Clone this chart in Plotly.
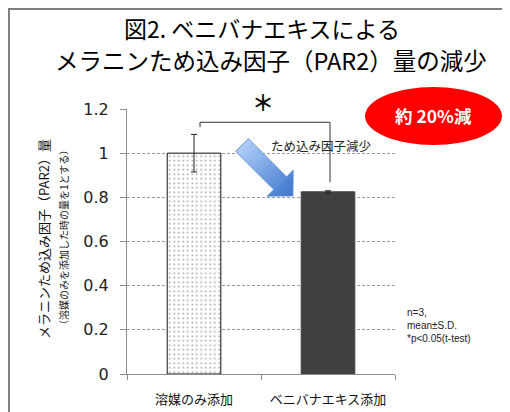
import math
import plotly.graph_objects as go

# ---- data ----
categories = ["溶媒のみ添加", "ベニバナエキス添加"]
means = [1.0, 0.825]
sds = [0.085, 0.005]
y_ticks = [0, 0.2, 0.4, 0.6, 0.8, 1.0, 1.2]
y_tick_labels = ["0", "0.2", "0.4", "0.6", "0.8", "1", "1.2"]

# page has an 8px body margin; all positions below are in screenshot pixels
OFF = 8
SW, SH = 510, 412
W, H = SW - OFF, SH - OFF
L, R, T, B = 127, 395, 109, 374  # plot area in screenshot pixels

def px2p(px, py):
    return (px - L) / (R - L), (B - py) / (B - T)

JP = "Noto Sans CJK JP"

fig = go.Figure()
fig.add_trace(go.Bar(
    x=[categories[0]], y=[means[0]],
    error_y=dict(type="data", array=[sds[0]], color="#222", thickness=1, width=3),
    marker=dict(color="white", line=dict(color="#111", width=1),
                pattern=dict(shape=".", fgcolor="#333", bgcolor="white", size=4.5, solidity=0.12)),
    width=0.4, showlegend=False))
fig.add_trace(go.Bar(
    x=[categories[1]], y=[means[1]],
    error_y=dict(type="data", array=[sds[1]], color="#222", thickness=1, width=3),
    marker=dict(color="#404040", line=dict(color="#404040", width=1)),
    width=0.4, showlegend=False))

shapes = []
# outer frame
fx0, fy1 = px2p(9, 9)
fx1, fy0 = px2p(530, 440)
shapes.append(dict(type="rect", xref="paper", yref="paper", x0=fx0, x1=fx1, y0=fy0, y1=fy1,
                   line=dict(color="#7f7f7f", width=2), fillcolor="rgba(0,0,0,0)", layer="below"))

# significance bracket
bx0, bx1 = 0.045, 1.015
by_top, by_l, by_r = 1.14, 1.118, 0.869
for (x0, y0, x1, y1) in [(bx0, by_l, bx0, by_top), (bx0, by_top, bx1, by_top), (bx1, by_top, bx1, by_r)]:
    shapes.append(dict(type="line", xref="x", yref="y", x0=x0, y0=y0, x1=x1, y1=y1,
                       line=dict(color="#333", width=1)))

# blue arrow (gradient approximated by slices)
TX, TY = 242, 145
s2 = math.sqrt(2)
def rot(a, q):
    return px2p(TX + (a + q) / s2, TY + (a - q) / s2)
def poly(pts):
    pp = [rot(a, q) for a, q in pts]
    return "M " + " L ".join(f"{x:.5f},{y:.5f}" for x, y in pp) + " Z"
c0 = (170, 202, 246)
c1 = (58, 116, 204)
def col(t):
    return "rgb(%d,%d,%d)" % tuple(int(c0[i] + (c1[i] - c0[i]) * t) for i in range(3))
a_head, a_tip, hw, sw = 54.0, 72.0, 18.4, 9.0
n = 10
for i in range(n):
    a0, a1 = a_head * i / n, a_head * (i + 1) / n + (0.6 if i < n - 1 else 0.3)
    shapes.append(dict(type="path", xref="paper", yref="paper",
                       path=poly([(a0, sw), (a1, sw), (a1, -sw), (a0, -sw)]),
                       fillcolor=col(a0 / a_tip), line=dict(width=0)))
m = 4
for i in range(m):
    a0 = a_head + (a_tip - a_head) * i / m
    a1 = a_head + (a_tip - a_head) * (i + 1) / m
    h0 = hw * (a_tip - a0) / (a_tip - a_head)
    a1e = min(a1 + 0.4, a_tip)
    h1e = hw * (a_tip - a1e) / (a_tip - a_head)
    shapes.append(dict(type="path", xref="paper", yref="paper",
                       path=poly([(a0, h0), (a1e, h1e), (a1e, -h1e), (a0, -h0)]),
                       fillcolor=col((a0 + a1) / 2 / a_tip), line=dict(width=0)))
shapes.append(dict(type="path", xref="paper", yref="paper",
                   path=poly([(0, sw), (a_head, sw), (a_head, hw), (a_tip, 0), (a_head, -hw), (a_head, -sw), (0, -sw)]),
                   fillcolor="rgba(0,0,0,0)", line=dict(color="#5a8ad6", width=0.8)))

# red ellipse
ex0, ey1 = px2p(365, 87)
ex1, ey0 = px2p(502, 145)
shapes.append(dict(type="circle", xref="paper", yref="paper", x0=ex0, x1=ex1, y0=ey0, y1=ey1,
                   fillcolor="#ff0000", line=dict(color="#ff0000", width=0)))

annotations = []
def ann(text, px, py, size, color="#000", xanchor="center", yanchor="middle", family=JP, **kw):
    x, y = px2p(px, py)
    annotations.append(dict(text=text, x=x, y=y, xref="paper", yref="paper", showarrow=False,
                            xanchor=xanchor, yanchor=yanchor,
                            font=dict(size=size, color=color, family=family), **kw))

ann("図2. ベニバナエキスによる", 262, 28, 23)
ann("メラニンため込み因子（PAR2）量の減少", 271, 60, 23.5)
ann("メラニンため込み因子（PAR2）量", 43, 239, 13, color="#111", textangle=-90)
ann("（溶媒のみを添加した時の量を1とする）", 63, 238, 10, color="#111", textangle=-90)
ann("<b>＊</b>", 263, 101, 22, color="#111")
ann("ため込み因子減少", 321, 145, 12.5, color="#222")
ann("<b>約 20%減</b>", 433, 115, 17.5, color="white")
for txt, yy in [("n=3,", 312), ("mean±S.D.", 325), ("*p<0.05(t-test)", 338)]:
    ann(txt, 405, yy, 10, color="#222", xanchor="left", family="Liberation Sans")

fig.update_layout(
    width=W, height=H, autosize=False,
    margin=dict(l=L - OFF, r=SW - R, t=T - OFF, b=SH - B),
    paper_bgcolor="white", plot_bgcolor="white",
    shapes=shapes, annotations=annotations,
    xaxis=dict(type="category", showline=True, linecolor="#8c8c8c", linewidth=1,
               ticks="outside", tickson="boundaries", ticklen=5, tickcolor="#8c8c8c",
               tickfont=dict(size=13, family=JP, color="#111"), showgrid=False,
               ticklabelstandoff=13, automargin=False),
    yaxis=dict(range=[0, 1.2], tickvals=y_ticks, ticktext=y_tick_labels,
               showline=True, linecolor="#8c8c8c", linewidth=1,
               ticks="outside", ticklen=6, tickcolor="#8c8c8c",
               tickfont=dict(size=16, family="DejaVu Sans", color="#222"),
               showgrid=True, gridcolor="#9a9a9a", gridwidth=1, griddash="3px,2px",
               zeroline=False, ticklabelstandoff=8, automargin=False),
)

fig.write_html("out.html")
